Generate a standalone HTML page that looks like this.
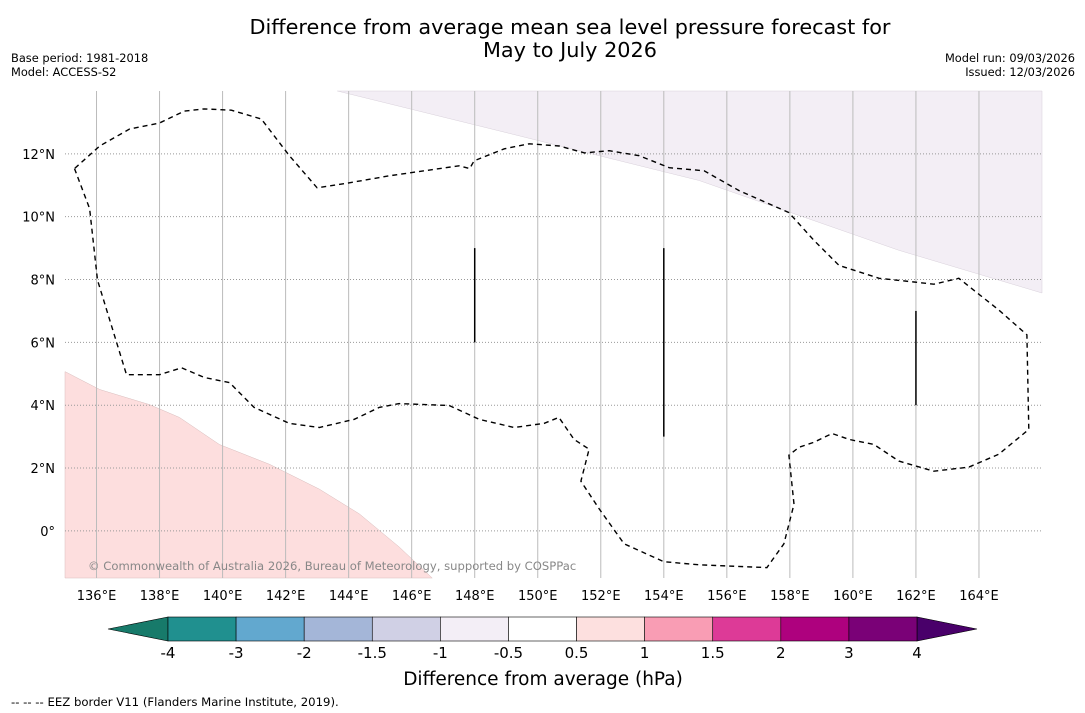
<!DOCTYPE html>
<html><head><meta charset="utf-8"><style>
html,body{margin:0;padding:0;background:#fff;width:1085px;height:713px;overflow:hidden;font-family:"DejaVu Sans","Liberation Sans",sans-serif}
svg{display:block;font-family:"DejaVu Sans","Liberation Sans",sans-serif}
</style></head><body>
<svg id="chart" width="1085" height="713" xmlns="http://www.w3.org/2000/svg">
<text x="570" y="34" text-anchor="middle" font-size="20.8" fill="#000">Difference from average mean sea level pressure forecast for</text>
<text x="570" y="57" text-anchor="middle" font-size="20.8" fill="#000">May to July 2026</text>
<text x="11" y="62" font-size="11.4">Base period: 1981-2018</text>
<text x="11" y="76" font-size="11.4">Model: ACCESS-S2</text>
<text x="1075" y="62" font-size="11.4" text-anchor="end">Model run: 09/03/2026</text>
<text x="1075" y="76" font-size="11.4" text-anchor="end">Issued: 12/03/2026</text>
<g id="map"></g>
<g id="cbar"></g>
<text x="543" y="685" text-anchor="middle" font-size="18.5">Difference from average (hPa)</text>
<text x="11" y="706" font-size="11.7">--  --  -- EEZ border V11 (Flanders Marine Institute, 2019).</text>
</svg>
<script>
const lonTicks=[136,138,140,142,144,146,148,150,152,154,156,158,160,162,164];
const latTicks=[0,2,4,6,8,10,12];
const eezLon=[135.3,135.78,136.03,136.95,138.0,138.7,139.42,140.22,141.0,142.12,143.07,144.18,144.97,145.6,147.19,148.14,149.25,150.2,150.67,151.15,151.63,151.37,151.95,152.74,154.0,155.12,157.27,157.81,158.13,157.97,158.29,158.76,159.34,159.88,160.67,161.46,162.57,163.68,164.63,165.58,165.52,164.63,163.36,162.57,161.94,160.83,159.56,158.76,157.97,156.39,155.28,154.17,153.22,152.27,151.48,150.68,149.73,148.94,147.98,147.84,147.5,145.29,143.86,143.0,142.12,141.23,140.28,139.42,138.79,138.0,137.05,136.1];
const eezLat=[11.53,10.26,7.98,4.97,4.97,5.19,4.88,4.72,3.93,3.42,3.29,3.55,3.93,4.05,3.99,3.55,3.29,3.42,3.61,2.91,2.6,1.58,0.7,-0.41,-0.98,-1.08,-1.17,-0.41,0.85,2.41,2.66,2.82,3.1,2.91,2.75,2.22,1.9,2.03,2.44,3.23,6.24,7.03,8.04,7.85,7.92,8.04,8.45,9.25,10.13,10.83,11.46,11.56,11.94,12.1,12.03,12.25,12.32,12.16,11.78,11.53,11.62,11.3,11.05,10.92,11.94,13.11,13.39,13.43,13.36,12.98,12.79,12.25];
const posLon=[135,136.1,137.68,138.63,139.9,141.49,143.07,144.34,145.6,146.65,135];
const posLat=[5.07,4.5,4.02,3.61,2.75,2.12,1.33,0.54,-0.51,-1.5,-1.5];
const negLon=[143.64,148.78,155.12,161.46,166,166];
const negLat=[14,12.73,11.15,8.93,7.57,14];
const segLon=[148,154,162];
const segLat0=[6,3,4];
const segLat1=[9,9,7];
const cbarLabels=["-4","-3","-2","-1.5","-1","-0.5","0.5","1","1.5","2","3","4"];
const cbarColors=["#20908f","#62a8cf","#a4b6d8","#d0d0e5","#f3eef6","#ffffff","#fde0df","#f99db4","#dd3a97","#ae017e","#7a0177"];
const NS="http://www.w3.org/2000/svg";
const X=lon=>65+(lon-135)*(977/31);
const Y=lat=>91+(14-lat)*(487/15.5);
function mk(tag,attrs,parent){const e=document.createElementNS(NS,tag);for(const k in attrs)e.setAttribute(k,attrs[k]);parent.appendChild(e);return e;}
const map=document.getElementById('map');
const pts=(a,b)=>a.map((v,i)=>X(v).toFixed(1)+','+Y(b[i]).toFixed(1)).join(' ');
let p=mk('polygon',{points:pts(negLon,negLat),fill:'#f3eef5',stroke:'#d8d0da','stroke-width':0.5},map);


p=mk('polygon',{points:pts(posLon,posLat),fill:'#fddede',stroke:'#d8bcbc','stroke-width':0.5},map);


lonTicks.forEach(l=>{const g=mk('line',{x1:X(l),x2:X(l),y1:91,y2:578,stroke:'#bbb','stroke-width':1},map);


const t=mk('text',{x:X(l),y:600,'text-anchor':'middle','font-size':13},map);t.textContent=l+'°E';

});
latTicks.forEach(l=>{const g=mk('line',{x1:65,x2:1042,y1:Y(l),y2:Y(l),stroke:'#999','stroke-width':1,'stroke-dasharray':'1,2'},map);


const t=mk('text',{x:55,y:Y(l)+5,'text-anchor':'end','font-size':13},map);t.textContent=l===0?'0°':l+'°N';

});
p=mk('polygon',{points:pts(eezLon,eezLat),fill:'none',stroke:'#000','stroke-width':1.4,'stroke-dasharray':'5,4'},map);


segLon.forEach((l,i)=>{const s=mk('line',{x1:X(l),x2:X(l),y1:Y(segLat0[i]),y2:Y(segLat1[i]),stroke:'#000','stroke-width':1.5},map);

});
const ct=mk('text',{x:88,y:570,'font-size':11.6,fill:'#888'},map);ct.textContent='© Commonwealth of Australia 2026, Bureau of Meteorology, supported by COSPPac';


const cb=document.getElementById('cbar');
const x0=168,x1=917,y0=617,y1=641,w=(x1-x0)/cbarColors.length;
p=mk('polygon',{points:`108,629 ${x0},${y0} ${x0},${y1}`,fill:'#177a6a',stroke:'#000','stroke-width':0.6},cb);


p=mk('polygon',{points:`977,629 ${x1},${y0} ${x1},${y1}`,fill:'#49006a',stroke:'#000','stroke-width':0.6},cb);


cbarColors.forEach((c,i)=>{const r=mk('rect',{x:x0+i*w,y:y0,width:w,height:y1-y0,fill:c,stroke:'#000','stroke-width':0.6},cb);

});
cbarLabels.forEach((l,i)=>{const t=mk('text',{x:x0+i*w,y:658,'text-anchor':'middle','font-size':15},cb);t.textContent=l;

});
</script>
</body></html>
